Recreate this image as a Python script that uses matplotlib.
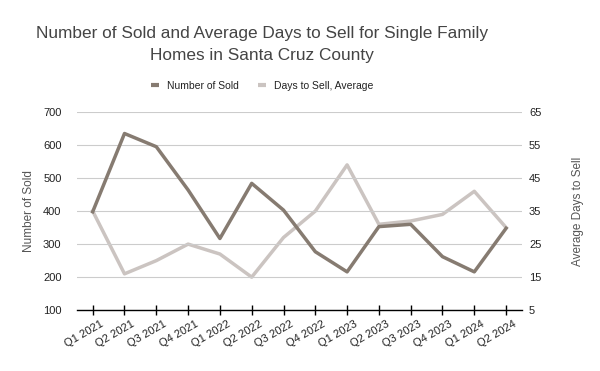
import numpy as np
import matplotlib.pyplot as plt
import matplotlib.transforms as mtransforms

plt.rcParams['font.family'] = ['Liberation Sans', 'DejaVu Sans']

quarters = ['Q1 2021', 'Q2 2021', 'Q3 2021', 'Q4 2021', 'Q1 2022', 'Q2 2022', 'Q3 2022',
            'Q4 2022', 'Q1 2023', 'Q2 2023', 'Q3 2023', 'Q4 2023', 'Q1 2024', 'Q2 2024']
sold = [398, 635, 595, 464, 317, 484, 403, 277, 216, 353, 360, 262, 216, 348]
days = [35, 16, 20, 25, 22, 15, 27, 35, 49, 31, 32, 34, 41, 30]

dark = '#867b71'
light = '#cbc4c1'

fig = plt.figure(figsize=(6, 3.71), dpi=100)
ax = fig.add_axes([0.128, 0.164, 0.742, 0.534])
ax2 = ax.twinx()

x = np.arange(len(quarters))
l1, = ax.plot(x, sold, color=dark, lw=2.5, label='Number of Sold', zorder=3)
l2, = ax2.plot(x, days, color=light, lw=2.5, label='Days to Sell, Average', zorder=2)
ax.set_zorder(ax2.get_zorder() + 1)
ax.patch.set_visible(False)

ax.set_xlim(-0.5, 13.5)
ax.set_ylim(100, 700)
ax.set_yticks(range(100, 701, 100))
ax2.set_ylim(5, 65)
ax2.set_yticks(range(5, 66, 10))

ax.grid(axis='y', color='#cccccc', lw=0.8)
ax.set_axisbelow(True)
for a in (ax, ax2):
    for s in ['top', 'left', 'right', 'bottom']:
        a.spines[s].set_visible(False)
    a.tick_params(axis='y', length=0, labelsize=8, colors='#222222')
ax.tick_params(axis='y', pad=11)
ax2.tick_params(axis='y', pad=5)
ax.spines['bottom'].set_visible(True)
ax.spines['bottom'].set_color('black')
ax.spines['bottom'].set_linewidth(1)

ax.set_xticks(x)
ax.set_xticklabels(quarters, rotation=30, ha='right', rotation_mode='anchor', fontsize=8, color='#222222')
ax.tick_params(axis='x', direction='inout', length=7, width=1, pad=3)
offset = mtransforms.ScaledTranslation(5 / 72, 0, fig.dpi_scale_trans)
for lab in ax.get_xticklabels():
    lab.set_transform(lab.get_transform() + offset)

ax.set_ylabel('Number of Sold', color='#555555', fontsize=8.5, labelpad=6)
ax2.set_ylabel('Average Days to Sell', color='#555555', fontsize=8.5, labelpad=22)

fig.suptitle('Number of Sold and Average Days to Sell for Single Family\nHomes in Santa Cruz County',
             x=0.437, y=0.93, fontsize=12.4, color='#444444', linespacing=1.55)
leg = fig.legend(handles=[l1, l2], loc='center', bbox_to_anchor=(0.437, 0.768), ncol=2, frameon=False,
                 fontsize=7.5, handlelength=0.75, handletextpad=0.8, columnspacing=1.8,
                 labelcolor='#222222')
for h in leg.legend_handles:
    h.set_solid_capstyle('butt')
    h.set_linewidth(3)

fig.savefig('out.png', dpi=100)
